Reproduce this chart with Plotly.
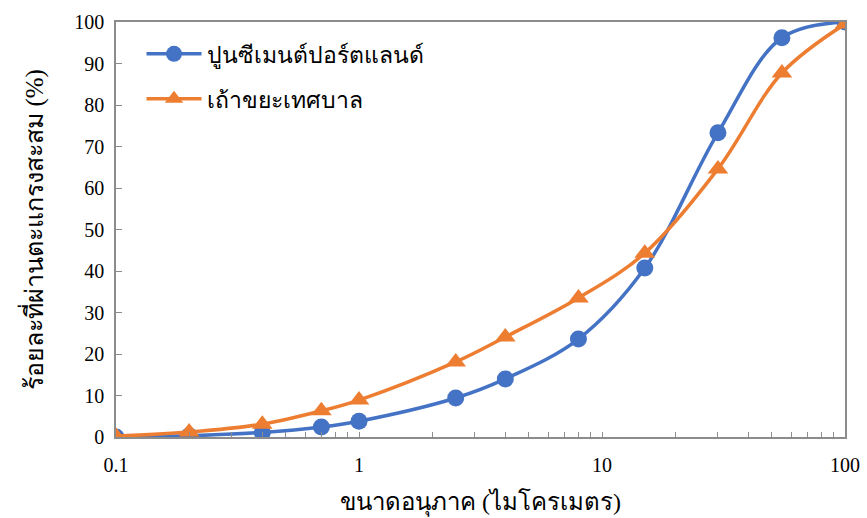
import plotly.graph_objects as go

# Particle size (micrometres) and cumulative percent passing
sizes = [0.1, 0.2, 0.4, 0.7, 1, 2.5, 4, 8, 15, 30, 55, 100]
cement_pass = [0.0, 0.3, 1.1, 2.4, 3.8, 9.4, 14.0, 23.6, 40.7, 73.3, 96.2, 100.0]
ash_pass = [0.2, 1.2, 3.1, 6.3, 8.9, 18.1, 24.1, 33.5, 44.3, 64.6, 87.7, 99.5]

cement_name = "ปูนซีเมนต์ปอร์ตแลนด์"
ash_name = "เถ้าขยะเทศบาล"
x_title = "ขนาดอนุภาค (ไมโครเมตร)"
y_title = "ร้อยละที่ผ่านตะแกรงสะสม (%)"

decades = [0.1, 1, 10]
decade_labels = ["0.1", "1", "10", "100"]

# log-axis ticks: labelled at each decade, unlabelled at 2..9 within it
tick_vals, tick_text = [], []
for d, lab in zip(decades, decade_labels):
    for k in range(1, 10):
        tick_vals.append(round(d * k, 6))
        tick_text.append(lab if k == 1 else "")
tick_vals.append(100)
tick_text.append(decade_labels[-1])

BLUE = "#4472C4"
ORANGE = "#ED7D31"
AXIS = "#8c8c8c"
FONT = "Liberation Serif, Times New Roman, serif"

fig = go.Figure()
fig.add_trace(go.Scatter(
    x=sizes, y=cement_pass, name=cement_name, mode="lines+markers",
    legendgroup="cement",
    line=dict(color=BLUE, width=3.5, shape="spline", smoothing=1.0),
    marker=dict(symbol="circle", size=17, color=BLUE),
))
fig.add_trace(go.Scatter(
    x=sizes, y=ash_pass, name=ash_name, mode="lines+markers",
    legendgroup="ash",
    line=dict(color=ORANGE, width=3.5, shape="spline", smoothing=1.0),
    marker=dict(symbol="triangle-up", size=18, color=ORANGE),
))

fig.update_layout(
    width=867, height=518,
    margin=dict(l=116, r=22, t=22, b=81, autoexpand=False),
    paper_bgcolor="white", plot_bgcolor="white",
    font=dict(family=FONT, size=20, color="black"),
    showlegend=True,
    legend=dict(
        x=0.035, y=0.975, xanchor="left", yanchor="top",
        bgcolor="rgba(0,0,0,0)", font=dict(size=23),
        itemwidth=55, tracegroupgap=12,
    ),
    xaxis=dict(
        type="log", range=[-1, 2], automargin=False,
        tickvals=tick_vals, ticktext=tick_text,
        ticks="inside", ticklen=5, tickcolor=AXIS,
        ticklabelstandoff=9,
        showline=True, linecolor=AXIS, linewidth=1.5, mirror=True,
        showgrid=False, zeroline=False,
        title=dict(text=x_title, font=dict(size=24), standoff=18),
    ),
    yaxis=dict(
        range=[0, 100], dtick=10, automargin=False,
        ticks="inside", ticklen=6, tickcolor=AXIS,
        ticklabelstandoff=6,
        showline=True, linecolor=AXIS, linewidth=1.5, mirror=True,
        showgrid=False, zeroline=False,
        title=dict(text=y_title, font=dict(size=25), standoff=24),
    ),
)

fig.write_html("out.html")
